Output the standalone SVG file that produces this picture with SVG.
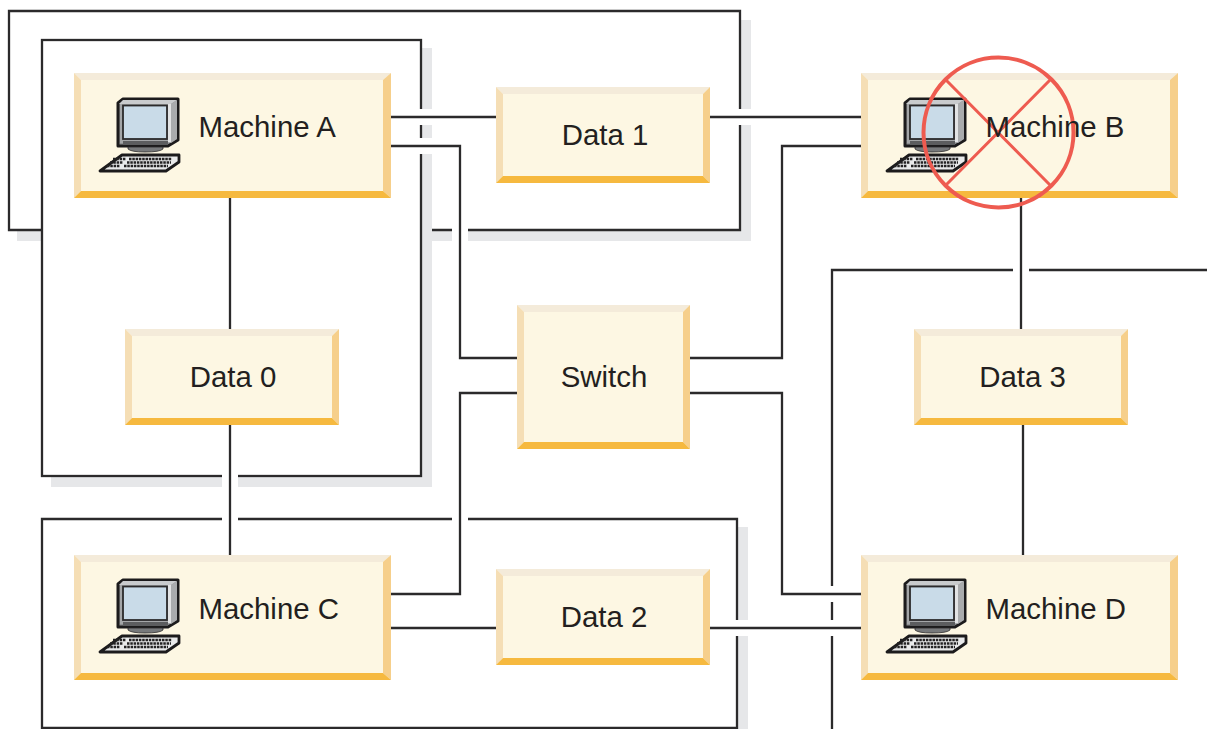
<svg xmlns="http://www.w3.org/2000/svg" width="1207" height="729" viewBox="0 0 1207 729">
<style>
.shadow{fill:#e6e7e9;stroke:none}
.frame{fill:none;stroke:#2b2a2b;stroke-width:2.300}
.halo{fill:none;stroke:#fff;stroke-width:16}
.wire{fill:none;stroke:#2b2a2b;stroke-width:2.300}
.face{fill:#fdf7e3}
.bt{fill:#f4ebda}
.bl{fill:#f5deb5}
.br{fill:#f6cf8b}
.bb{fill:#f6b93f}
text{font-family:"Liberation Sans",Arial,sans-serif;font-size:29.400px;fill:#231f20}
.mid{text-anchor:middle}
.cross{fill:none;stroke:#ee5b50}
</style>
<defs>
<g id="computer">
<path d="M118 103L123 99H178V140L168 146H118Z" fill="#8f9193" stroke="#1c1b1c" stroke-width="3" stroke-linejoin="round"/>
<path d="M119 104L123 100H177L171 104Z" fill="#c9cbcd"/>
<path d="M171 104L177 100V139L171 143Z" fill="#a9abad"/>
<rect x="120" y="104" width="51" height="39" fill="#a4a6a8"/>
<rect x="168" y="104" width="3" height="38" fill="#e2e3e4"/>
<rect x="123" y="105.500" width="44" height="33.500" fill="#c9dbe8" stroke="#2b2a2b" stroke-width="1.800"/>
<rect x="123" y="141" width="45" height="4" fill="#5c5d5f"/>
<path d="M128 147H163V149Q160 152 145 152Q131 152 128 149Z" fill="#77797b" stroke="#2b2a2b" stroke-width="0.800"/>
<path d="M100 171L122 155H179V162L166 171Z" fill="#e9eaeb" stroke="#1c1b1c" stroke-width="2.800" stroke-linejoin="round"/>
<g fill="none" stroke="#232223" stroke-width="2.600" stroke-dasharray="2.500 0.800">
<path d="M113 159H126M129 159H172"/>
<path d="M110 162.500H123M127 162.500H171"/>
<path d="M107 166H120M124 166H168"/>
</g>
</g>
</defs>

<g id="frames">
<path class="shadow" d="M741 20H751V241H432V231H741Z"/>
<rect class="shadow" x="17" y="231" width="25" height="10"/>
<path class="shadow" d="M422 48H432V487H51V477H422Z"/>
<path class="shadow" d="M738 527H748V729H738Z"/>
<path class="frame" d="M42 230H9V11H740V230H432"/>
<rect class="frame" x="42" y="40" width="379" height="436"/>
<path class="frame" d="M42 729V519H737V728H42"/>
<path class="frame" d="M1207 270H832V729"/>
</g>

<g id="connectors">
<g class="halo">
<path d="M391 117H496"/>
<path d="M710 117H861"/>
<path d="M391 146H460V358H517"/>
<path d="M690 358H782V146H861"/>
<path d="M517 393H460V594H391"/>
<path d="M690 393H782V594H861"/>
<path d="M391 628H496"/>
<path d="M710 628H861"/>
<path d="M230 425V555"/>
<path d="M1021 197V329"/>
</g>
<g class="wire">
<path d="M391 117H496"/>
<path d="M710 117H861"/>
<path d="M391 146H460V358H517"/>
<path d="M690 358H782V146H861"/>
<path d="M517 393H460V594H391"/>
<path d="M690 393H782V594H861"/>
<path d="M391 628H496"/>
<path d="M710 628H861"/>
<path d="M230 198V329"/>
<path d="M230 425V555"/>
<path d="M1021 197V329"/>
<path d="M1023 425V555"/>
</g>
</g>

<g id="machine-a">
<rect class="face" x="74" y="73" width="317" height="125"/>
<path class="bt" d="M74 73H391L383 80H81Z"/><path class="bl" d="M74 73L81 80V191L74 198Z"/><path class="br" d="M391 73L383 80V191L391 198Z"/><path class="bb" d="M74 198L81 191H383L391 198Z"/>
<use href="#computer"/>
<text x="198.500" y="137">Machine A</text>
</g>

<g id="machine-b">
<rect class="face" x="861" y="73" width="317" height="125"/>
<path class="bt" d="M861 73H1178L1170 80H868Z"/><path class="bl" d="M861 73L868 80V191L861 198Z"/><path class="br" d="M1178 73L1170 80V191L1178 198Z"/><path class="bb" d="M861 198L868 191H1170L1178 198Z"/>
<use href="#computer" x="787"/>
<g id="failure-cross" class="cross">
<circle cx="998.500" cy="132.500" r="75" stroke-width="4"/>
<path d="M945 79L1051 186M1051 79L945 186" stroke-width="3"/>
</g>
<text x="985.500" y="137">Machine B</text>
</g>

<g id="machine-c">
<rect class="face" x="74" y="555" width="317" height="125"/>
<path class="bt" d="M74 555H391L383 562H81Z"/><path class="bl" d="M74 555L81 562V673L74 680Z"/><path class="br" d="M391 555L383 562V673L391 680Z"/><path class="bb" d="M74 680L81 673H383L391 680Z"/>
<use href="#computer" y="481"/>
<text x="198.500" y="619">Machine C</text>
</g>

<g id="machine-d">
<rect class="face" x="861" y="555" width="317" height="125"/>
<path class="bt" d="M861 555H1178L1170 562H868Z"/><path class="bl" d="M861 555L868 562V673L861 680Z"/><path class="br" d="M1178 555L1170 562V673L1178 680Z"/><path class="bb" d="M861 680L868 673H1170L1178 680Z"/>
<use href="#computer" x="787" y="481"/>
<text x="985.500" y="619">Machine D</text>
</g>

<g id="data-0">
<rect class="face" x="125" y="329" width="214" height="96"/>
<path class="bt" d="M125 329H339L332 336H132Z"/><path class="bl" d="M125 329L132 336V418L125 425Z"/><path class="br" d="M339 329L332 336V418L339 425Z"/><path class="bb" d="M125 425L132 418H332L339 425Z"/>
<text class="mid" x="233" y="387">Data 0</text>
</g>

<g id="data-1">
<rect class="face" x="496" y="87" width="214" height="96"/>
<path class="bt" d="M496 87H710L703 94H503Z"/><path class="bl" d="M496 87L503 94V176L496 183Z"/><path class="br" d="M710 87L703 94V176L710 183Z"/><path class="bb" d="M496 183L503 176H703L710 183Z"/>
<text class="mid" x="605" y="145">Data 1</text>
</g>

<g id="data-2">
<rect class="face" x="496" y="569" width="214" height="96"/>
<path class="bt" d="M496 569H710L703 576H503Z"/><path class="bl" d="M496 569L503 576V658L496 665Z"/><path class="br" d="M710 569L703 576V658L710 665Z"/><path class="bb" d="M496 665L503 658H703L710 665Z"/>
<text class="mid" x="604" y="627">Data 2</text>
</g>

<g id="data-3">
<rect class="face" x="914" y="329" width="214" height="96"/>
<path class="bt" d="M914 329H1128L1121 336H921Z"/><path class="bl" d="M914 329L921 336V418L914 425Z"/><path class="br" d="M1128 329L1121 336V418L1128 425Z"/><path class="bb" d="M914 425L921 418H1121L1128 425Z"/>
<text class="mid" x="1022.500" y="387">Data 3</text>
</g>

<g id="switch">
<rect class="face" x="517" y="305" width="173" height="144"/>
<path class="bt" d="M517 305H690L683 312H524Z"/><path class="bl" d="M517 305L524 312V442L517 449Z"/><path class="br" d="M690 305L683 312V442L690 449Z"/><path class="bb" d="M517 449L524 442H683L690 449Z"/>
<text class="mid" x="604" y="387">Switch</text>
</g>
</svg>
